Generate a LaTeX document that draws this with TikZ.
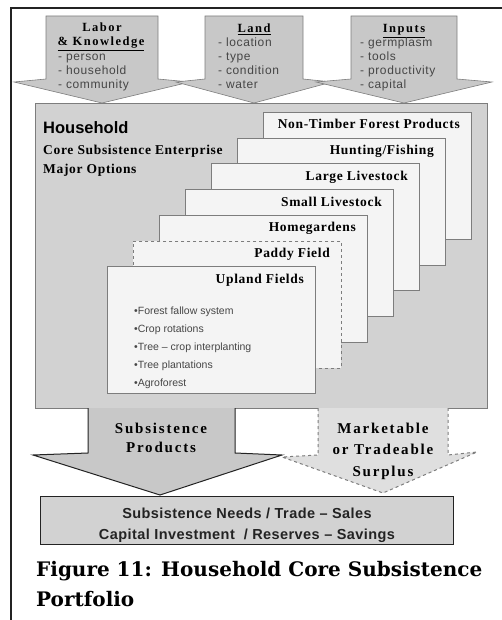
\documentclass[tikz,border=0pt]{standalone}
\usepackage{fontspec}
\setmainfont{Liberation Serif}
\setsansfont{Liberation Sans}
\newfontfamily\captionserif{DejaVu Serif}
\definecolor{Panelgrey}{RGB}{210,210,210}
\definecolor{Arrowgrey}{RGB}{200,200,200}
\definecolor{Cardwhite}{RGB}{244,244,244}
\definecolor{Edgegrey}{RGB}{125,125,125}
\definecolor{Framedark}{RGB}{35,35,35}
\definecolor{Listgrey}{RGB}{70,70,70}

\begin{document}
\begin{tikzpicture}[x=1pt, y=-1pt,
    toparrow/.style={fill=Arrowgrey, draw=Edgegrey, line width=0.6pt},
    toptitle/.style={font=\bfseries\fontsize{12.5}{14}\selectfont\addfontfeatures{LetterSpace=12}, anchor=base, inner sep=0pt},
    topitem/.style={font=\sffamily\fontsize{12}{14}\selectfont\addfontfeatures{LetterSpace=5}, text=Listgrey, align=left, anchor=base west, inner sep=0pt},
    card/.style={draw=Edgegrey, fill=Cardwhite, line width=0.8pt, minimum width=208pt, minimum height=127pt, inner sep=0pt, anchor=north west},
    cardtitle/.style={font=\bfseries\fontsize{13.5}{15}\selectfont\addfontfeatures{LetterSpace=5}, anchor=base east, inner sep=0pt},
    arrowtext/.style={font=\bfseries\fontsize{15}{19}\selectfont\addfontfeatures{LetterSpace=12}, align=center, anchor=base, inner sep=0pt},
    needstext/.style={font=\sffamily\bfseries\fontsize{14.5}{16}\selectfont\addfontfeatures{LetterSpace=3}, text=Framedark, anchor=base, inner sep=0pt}]
            \useasboundingbox (0,0) rectangle (502,620);
            \coordinate (frame top) at (502,8);
            \coordinate (frame corner) at (11,8);
            \coordinate (frame bottom) at (11,620);
            \draw[line width=2pt, Framedark] (frame bottom) -- (frame corner) -- (frame top);

            \foreach \cx/\hw/\ww in {102/56/88, 254/49/78, 404/53/88}{
                \filldraw[toparrow] ({\cx-\hw},16) -- ({\cx+\hw},16) -- ({\cx+\hw},79) -- ({\cx+\ww},82)
                    -- (\cx,103) -- ({\cx-\ww},82) -- ({\cx-\hw},79) -- cycle;
            }
            \node[toptitle] (labor) at (102,32) {Labor};
            \node[toptitle] (knowledge) at (101,46) {\underline{\& Knowledge}};
            \node[topitem] (labor items) at (58,89) {- person\\- household\\- community};
            \node[toptitle] (land) at (254,33) {\underline{Land}};
            \node[topitem] (land items) at (218,89) {- location\\- type\\- condition\\- water};
            \node[toptitle] (inputs) at (404,33) {\underline{Inputs}};
            \node[topitem] (inputs items) at (360,89) {- germplasm\\- tools\\- productivity\\- capital};

            \node[draw=Edgegrey, fill=Panelgrey, line width=0.8pt, minimum width=452pt, minimum height=305pt,
                inner sep=0pt, anchor=north west] (household) at (35,103) {};
            \node[anchor=base west, inner sep=0pt, font=\sffamily\bfseries\fontsize{16.5}{20}\selectfont] (hh title) at (43,134) {Household};
            \node[cardtitle, anchor=base west] (hh core) at (43,155) {Core Subsistence Enterprise};
            \node[cardtitle, anchor=base west] (hh options) at (43,174) {Major Options};

            \foreach \i/\cardname/\cardline in {0/{Non-Timber Forest Products}/solid, 1/{Hunting/Fishing}/solid,
                2/{Large Livestock}/solid, 3/{Small Livestock}/solid, 4/Homegardens/solid, 5/{Paddy Field}/dashed,
                6/{Upland Fields}/solid}{
                \node[card, \cardline] (card\i) at ({263-26*\i},{112+25.7*\i}) {};
                \node[cardtitle] (card title\i) at ({460-26*\i},{129+25.7*\i}) {\cardname};
            }
            \node[anchor=north west, inner sep=0pt, align=left, text=Listgrey, font=\sffamily\fontsize{10.5}{17.8}\selectfont] (upland list) at (134,307)
                {•Forest fallow system\\•Crop rotations\\•Tree – crop interplanting\\•Tree plantations\\•Agroforest};

            \filldraw[fill=Panelgrey!70!white, draw=Edgegrey, line width=1pt, dashed] (318,408) -- (318,455) -- (282,457)
                -- (383,493) -- (477,452) -- (448,455) -- (448,408);
            \filldraw[fill=Arrowgrey, draw=Framedark, line width=1pt] (88,408) -- (88,453) -- (33,455) -- (160,495)
                -- (282,455) -- (235,453) -- (235,408);
            \node[arrowtext] (subsistence) at (161,452) {Subsistence\\Products};
            \node[arrowtext, font=\bfseries\fontsize{15}{21.5}\selectfont\addfontfeatures{LetterSpace=12}] (surplus) at (383,476)
                {Marketable\\or Tradeable\\Surplus};

            \node[draw=Framedark, fill=Panelgrey, line width=1.2pt, minimum width=413pt, minimum height=48pt,
                inner sep=0pt, anchor=north west] (needs) at (40,496) {};
            \node[needstext] (needs one) at (247,518) {Subsistence Needs / Trade – Sales};
            \node[needstext] (needs two) at (247,539) {Capital Investment\ \ / Reserves – Savings};

            \node[anchor=base west, inner sep=0pt, font=\captionserif\bfseries\fontsize{20}{30}\selectfont] (caption one) at (36,576) {Figure 11: Household Core Subsistence};
            \node[anchor=base west, inner sep=0pt, font=\captionserif\bfseries\fontsize{20}{30}\selectfont] (caption two) at (36,606) {Portfolio};
        \end{tikzpicture}
\end{document}
